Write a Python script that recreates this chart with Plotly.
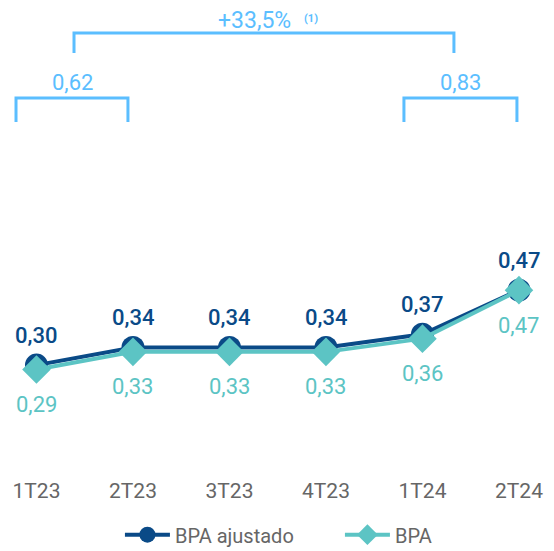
import plotly.graph_objects as go

quarters = ["1T23", "2T23", "3T23", "4T23", "1T24", "2T24"]
bpa_ajustado = [0.30, 0.34, 0.34, 0.34, 0.37, 0.47]
bpa = [0.29, 0.33, 0.33, 0.33, 0.36, 0.47]
bpa_ajustado_text = ["0,30", "0,34", "0,34", "0,34", "0,37", "0,47"]
bpa_text = ["0,29", "0,33", "0,33", "0,33", "0,36", "0,47"]

NAVY = "#0A4A87"
TEAL = "#5CC4C4"
LIGHT = "#5BBEFF"
GREY = "#666666"
FONT = "Roboto"

x = list(range(len(quarters)))

fig = go.Figure()
fig.add_trace(go.Scatter(
    x=x, y=bpa_ajustado, name="BPA ajustado", mode="lines+markers",
    line=dict(color=NAVY, width=4),
    marker=dict(symbol="circle", size=23, color=NAVY),
))
fig.add_trace(go.Scatter(
    x=x, y=bpa, name="BPA", mode="lines+markers",
    line=dict(color=TEAL, width=4),
    marker=dict(symbol="diamond", size=22, color=TEAL),
))

# data labels
for i, (v, t) in enumerate(zip(bpa_ajustado, bpa_ajustado_text)):
    fig.add_annotation(x=i, y=v, text=t, showarrow=False, yshift=30,
                       font=dict(family=FONT, size=22, color=NAVY, weight=500))
for i, (v, t) in enumerate(zip(bpa, bpa_text)):
    fig.add_annotation(x=i, y=v, text=t, showarrow=False, yshift=-35,
                       font=dict(family=FONT, size=22, color=TEAL))

# brackets
def bracket(x0, x1, ytop, ybot):
    fig.add_shape(type="path",
                  path=f"M {x0},{ybot} L {x0},{ytop} L {x1},{ytop} L {x1},{ybot}",
                  line=dict(color=LIGHT, width=3), xref="x", yref="y")

bracket(-0.212, 0.948, 0.9057, 0.8512)
bracket(3.808, 4.979, 0.9057, 0.8512)
bracket(0.389, 4.326, 1.0531, 1.0077)

fig.add_annotation(x=0.373, y=0.940, text="0,62", showarrow=False,
                   font=dict(family=FONT, size=22, color=LIGHT))
fig.add_annotation(x=4.394, y=0.940, text="0,83", showarrow=False,
                   font=dict(family=FONT, size=22, color=LIGHT))
fig.add_annotation(x=2.259, y=1.081, text="+33,5%", showarrow=False, borderpad=0,
                   font=dict(family=FONT, size=23, color=LIGHT))
fig.add_annotation(x=2.84, y=1.086, text="(1)", showarrow=False,
                   font=dict(family=FONT, size=11, color=LIGHT, weight="bold"))

fig.update_layout(
    width=546, height=543,
    margin=dict(l=0, r=0, t=0, b=75),
    paper_bgcolor="white", plot_bgcolor="white",
    showlegend=True,
    legend=dict(orientation="h", xref="container", yref="container",
                x=0.205, xanchor="left", y=0.03, yanchor="middle",
                itemwidth=45, entrywidth=160, entrywidthmode="pixels",
                font=dict(family=FONT, size=20, color=GREY)),
    xaxis=dict(range=[-0.295, 5.363], tickvals=x, ticktext=quarters,
               showgrid=False, zeroline=False, showline=False,
               tickfont=dict(family=FONT, size=21, color=GREY), ticks=""),
    yaxis=dict(range=[0.0485, 1.1098], visible=False),
)

fig.write_html("out.html")
